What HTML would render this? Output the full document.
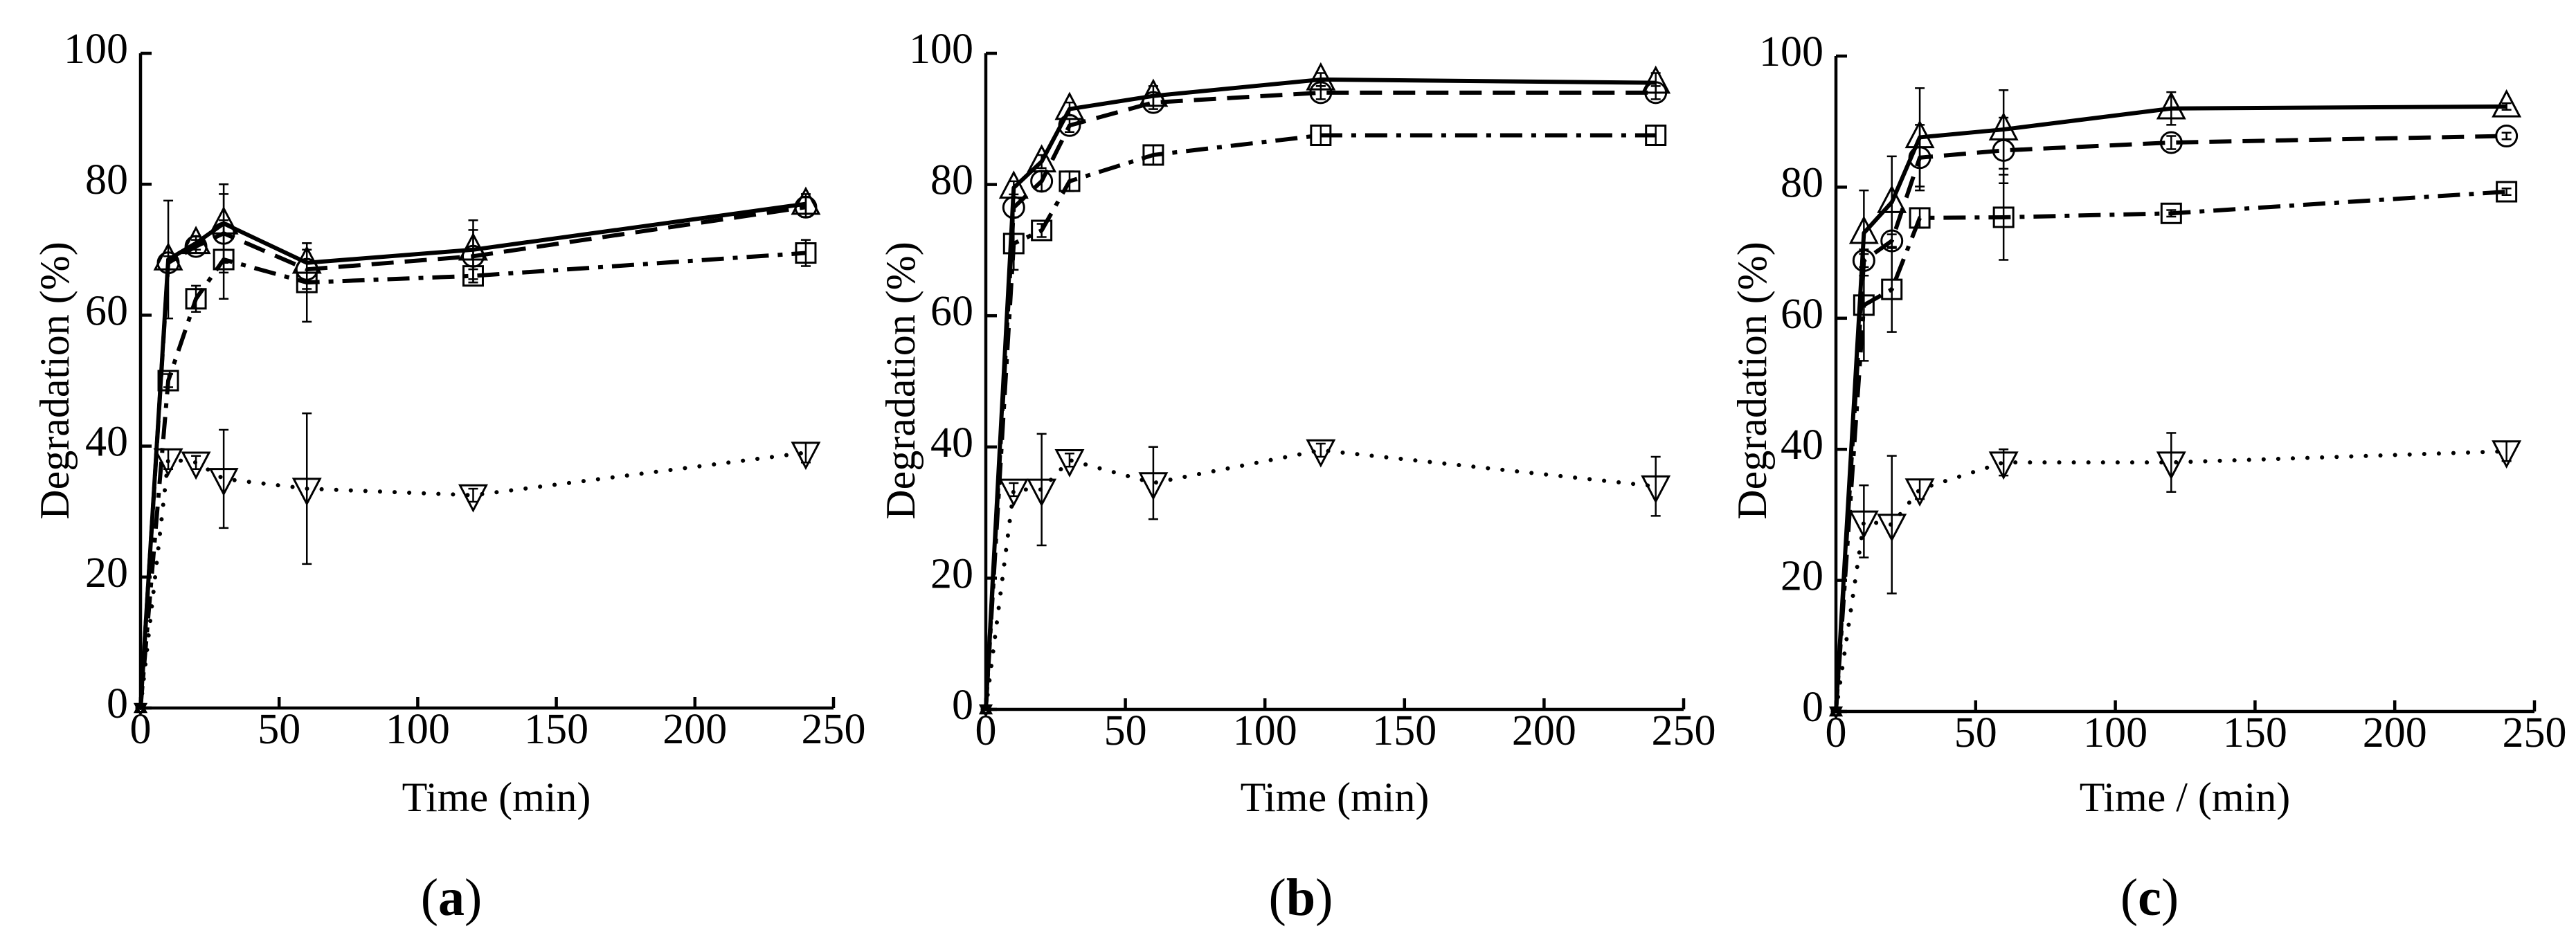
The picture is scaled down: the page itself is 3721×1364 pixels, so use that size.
<!DOCTYPE html>
<html><head><meta charset="utf-8"><style>
html,body{margin:0;padding:0;background:#fff;}
svg{display:block;font-family:"Liberation Serif",serif;}
</style></head><body>
<svg id="fig" width="3721" height="1364" viewBox="0 0 3721 1364" xmlns="http://www.w3.org/2000/svg"></svg>
<script>
const times = [0, 10, 20, 30, 60, 120, 240];
const xTicks = [0, 50, 100, 150, 200, 250];
const yTicks = [0, 20, 40, 60, 80, 100];
const panelLetters = ["a", "b", "c"];
const xTitles = ["Time (min)", "Time (min)", "Time / (min)"];
// panel a
const aTri = [0, 68.5, 71, 74, 68, 70, 77];
const aCirc = [0, 68, 70.5, 72.5, 67, 69, 76.5];
const aSq = [0, 50, 62.5, 68.5, 65, 66, 69.5];
const aInv = [0, 38, 37.5, 35, 33.5, 32.5, 39];
const aTriErr = [0, 9, 1, 6, 3, 4.5, 1.5];
const aCircErr = [0, 1, 1, 6, 3, 4, 1.5];
const aSqErr = [0, 1, 2, 6, 6, 1, 2];
const aInvErr = [0, 1.5, 1, 7.5, 11.5, 1, 1.5];
// panel b
const bTri = [0, 79.5, 83.5, 91.5, 93.5, 96, 95.5];
const bCirc = [0, 76.5, 80.5, 89, 92.5, 94, 94];
const bSq = [0, 71, 73, 80.5, 84.5, 87.5, 87.5];
const bInv = [0, 33.5, 33.5, 38, 34.5, 39.5, 34];
const bTriErr = [0, 1, 1, 1, 1.5, 1, 1.5];
const bCircErr = [0, 1.5, 1.5, 1, 1, 1, 1];
const bSqErr = [0, 4, 1, 1.5, 1.5, 1.5, 1.5];
const bInvErr = [0, 1, 8.5, 1, 5.5, 1, 4.5];
// panel c
const cTri = [0, 73, 77.7, 87.6, 88.8, 92, 92.3];
const cCirc = [0, 68.8, 71.8, 84.5, 85.6, 86.8, 87.8];
const cSq = [0, 62, 64.4, 75.3, 75.4, 76, 79.3];
const cInv = [0, 29, 28.5, 33.9, 38, 38, 39.7];
const cTriErr = [0, 6.5, 7, 7.5, 6, 2.5, 0.5];
const cCircErr = [0, 1, 1, 5, 5, 1, 0.5];
const cSqErr = [0, 8.5, 6.5, 1.5, 6.5, 0.5, 0.5];
const cInvErr = [0, 5.5, 10.5, 1.5, 2, 4.5, 1.5];

const NS = "http://www.w3.org/2000/svg";
const svg = document.getElementById("fig");
function mk(tag, attrs, parent) {
  const e = document.createElementNS(NS, tag);
  for (const k in attrs) e.setAttribute(k, attrs[k]);
  (parent || svg).appendChild(e);
  return e;
}
const panels = [
  {x0: 203, x1: 1204, y0: 1023, y1: 77, ylx: 79, xlx: 717, plx: 652,
   series: [[aTri, aTriErr], [aCirc, aCircErr], [aSq, aSqErr], [aInv, aInvErr]]},
  {x0: 1424, x1: 2432, y0: 1025, y1: 77, ylx: 1301, xlx: 1928, plx: 1879,
   series: [[bTri, bTriErr], [bCirc, bCircErr], [bSq, bSqErr], [bInv, bInvErr]]},
  {x0: 2652, x1: 3661, y0: 1028, y1: 81, ylx: 2531, xlx: 3156, plx: 3105,
   series: [[cTri, cTriErr], [cCirc, cCircErr], [cSq, cSqErr], [cInv, cInvErr]]}
];
const styles = [
  {name: "triangle", dash: "none", cap: "butt"},
  {name: "circle", dash: "32 16", cap: "butt"},
  {name: "square", dash: "32 13 7 13", cap: "butt"},
  {name: "inverted-triangle", dash: "0.1 21", cap: "round"}
];
panels.forEach((p, pi) => {
  const g = mk("g", {});
  
  
  const sx = v => p.x0 + (p.x1 - p.x0) * v / 250;
  const sy = v => p.y0 - (p.y0 - p.y1) * v / 100;
  const ax = mk("path", {d: `M${p.x0},${p.y1} L${p.x0},${p.y0} L${p.x1},${p.y0}`, fill: "none", stroke: "#000", "stroke-width": 4.5}, g);
  
  
  yTicks.forEach(t => {
    mk("line", {x1: p.x0, x2: p.x0 + 16, y1: sy(t), y2: sy(t), stroke: "#000", "stroke-width": 4.5}, g);
    const tl = mk("text", {x: p.x0 - 18, y: sy(t) + 14, "font-size": 62, "text-anchor": "end"}, g);
    tl.textContent = t;
    
    
  });
  xTicks.forEach(t => {
    mk("line", {x1: sx(t), x2: sx(t), y1: p.y0, y2: p.y0 - 16, stroke: "#000", "stroke-width": 4.5}, g);
    const tl = mk("text", {x: sx(t), y: p.y0 + 51, "font-size": 62, "text-anchor": "middle"}, g);
    tl.textContent = t;
    
    
  });
  const yl = mk("text", {x: p.ylx, y: 550, "font-size": 60, "text-anchor": "middle", transform: `rotate(-90 ${p.ylx} 550)`, dy: 20}, g);
  yl.textContent = "Degradation (%)";
  
  
  const xl = mk("text", {x: p.xlx, y: 1172, "font-size": 60, "text-anchor": "middle"}, g);
  xl.textContent = xTitles[pi];
  
  
  const pl = mk("text", {x: p.plx, y: 1322, "font-size": 76, "text-anchor": "middle"}, g);
  pl.innerHTML = '(<tspan font-weight="bold">' + panelLetters[pi] + '</tspan>)';
  
  
  p.series.forEach((s, si) => {
    const [vals, errs] = s;
    const st = styles[si];
    const sg = mk("g", {}, g);
    
    
    const d = vals.map((v, i) => (i ? "L" : "M") + sx(times[i]) + "," + sy(v)).join(" ");
    const ln = mk("path", {d: d, fill: "none", stroke: "#000", "stroke-width": 6, "stroke-dasharray": st.dash, "stroke-linecap": st.cap, "stroke-linejoin": "round"}, sg);
    
    
    vals.forEach((v, i) => {
      const x = sx(times[i]), y = sy(v);
      if (i > 0) {
        const e = errs[i];
        const ya = sy(v + e), yb = sy(v - e);
        const eb = mk("path", {d: `M${x},${ya} L${x},${yb} M${x-7},${ya} L${x+7},${ya} M${x-7},${yb} L${x+7},${yb}`, stroke: "#000", "stroke-width": 2.5, fill: "none"}, sg);
        
        
      }
      let m;
      const sc = i === 0 ? 0.4 : 1;
      if (si === 0) {
        const r = 19 * sc;
        m = mk("polygon", {points: `${x},${y - r * 1.15} ${x - r},${y + r * 0.75} ${x + r},${y + r * 0.75}`}, sg);
      } else if (si === 1) {
        m = mk("circle", {cx: x, cy: y, r: 15 * sc}, sg);
      } else if (si === 2) {
        const h = 14 * sc;
        m = mk("rect", {x: x - h, y: y - h, width: 2 * h, height: 2 * h}, sg);
      } else {
        const r = 19 * sc;
        m = mk("polygon", {points: `${x},${y + r * 1.15} ${x - r},${y - r * 0.75} ${x + r},${y - r * 0.75}`}, sg);
      }
      m.setAttribute("fill", "#fff");
      m.setAttribute("fill-opacity", "0");
      m.setAttribute("stroke", "#000");
      m.setAttribute("stroke-width", 3);
      
      
    });
  });
});
</script>
</body></html>
